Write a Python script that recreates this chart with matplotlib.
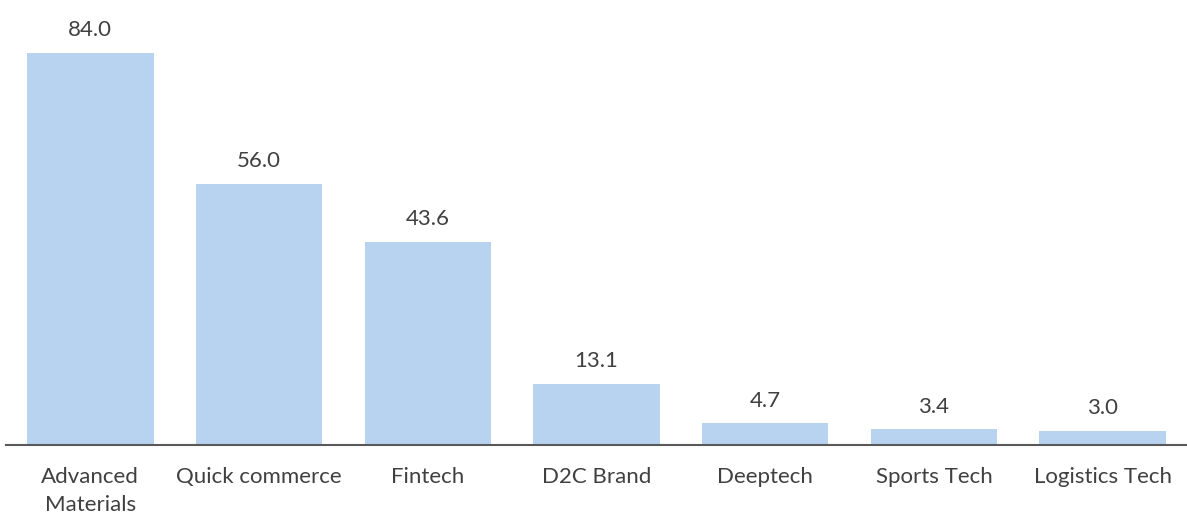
import matplotlib
matplotlib.use('Agg')
from matplotlib import pyplot as plt

categories = ["Advanced\nMaterials", "Quick commerce", "Fintech", "D2C Brand",
              "Deeptech", "Sports Tech", "Logistics Tech"]
values = [84.0, 56.0, 43.6, 13.1, 4.7, 3.4, 3.0]

BAR_COLOR = "#B7D3EF"
TEXT_COLOR = "#404040"

plt.rcParams['font.family'] = ['Lato', 'DejaVu Sans']

fig = plt.figure(figsize=(11.87, 5.14), dpi=100)
ax = fig.add_axes([6 / 1187, 69 / 514, 1181 / 1187, 445 / 514])

x = list(range(len(values)))
bars = ax.bar(x, values, width=0.75, color=BAR_COLOR)

for b, v in zip(bars, values):
    ax.annotate("%.1f" % v, xy=(b.get_x() + b.get_width() / 2, v), xytext=(0, 9),
                textcoords='offset points', ha='center', va='bottom',
                fontsize=16, color=TEXT_COLOR)

ax.set_xlim(-0.5, len(values) - 0.5)
ax.set_ylim(0, 95.35)
ax.set_xticks(x)
ax.set_xticklabels(categories, fontsize=16, color=TEXT_COLOR, linespacing=1.5)
ax.tick_params(axis='x', length=0, pad=16)
ax.set_yticks([])

for side in ['top', 'right', 'left']:
    ax.spines[side].set_visible(False)
ax.spines['bottom'].set_color('#595959')
ax.spines['bottom'].set_linewidth(1.5)

plt.savefig("out.png", dpi=100)
